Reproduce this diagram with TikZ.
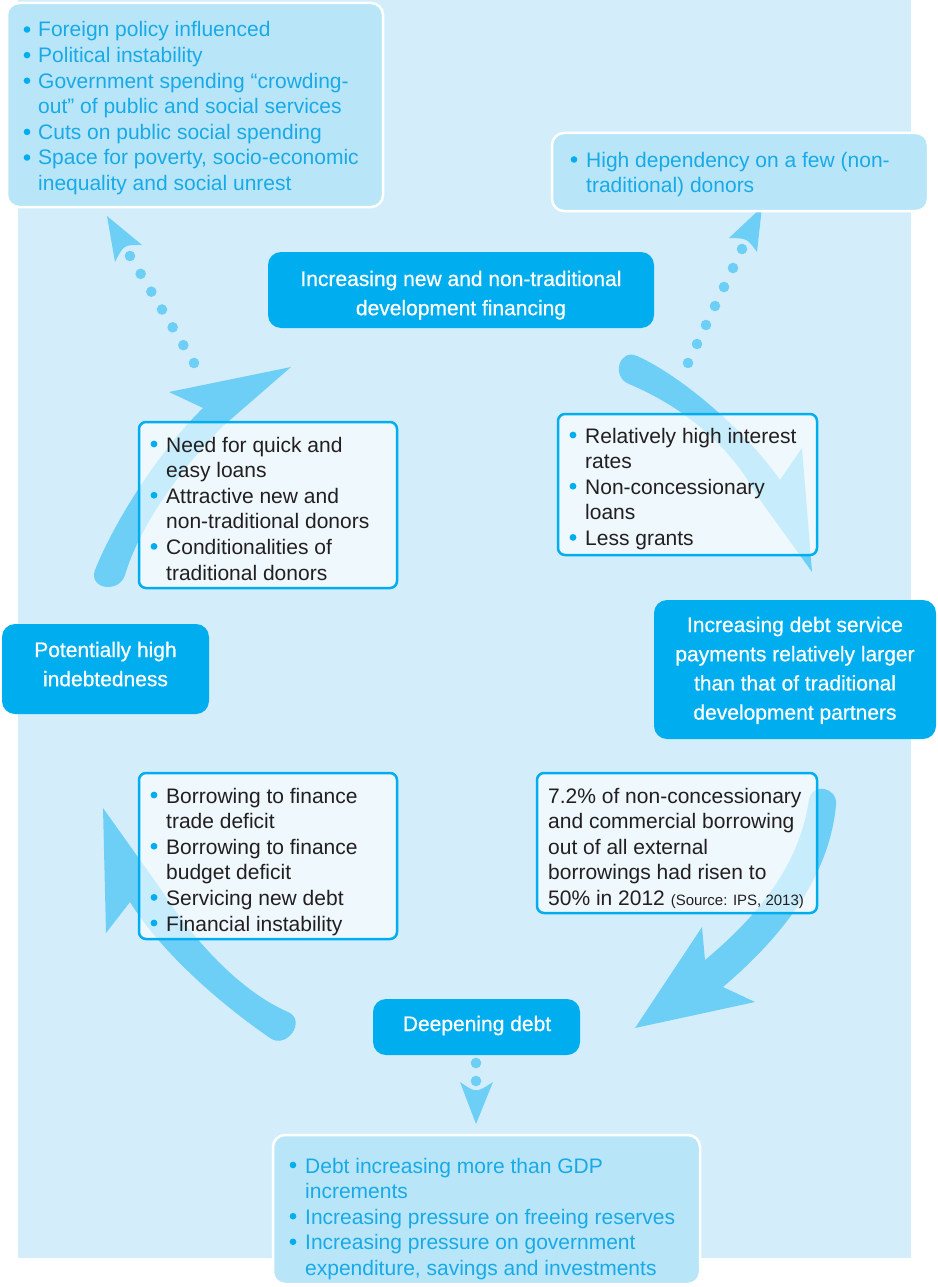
\documentclass[tikz,border=0pt]{standalone}
\usepackage{fontspec}
\setmainfont{Liberation Sans}
\newfontfamily\medfont{Liberation Sans}[FakeBold=0.6]
\usetikzlibrary{calc}
\definecolor{bgc}{HTML}{D3EEFA}
\definecolor{palec}{HTML}{B9E5F9}
\definecolor{darkc}{HTML}{00AEEF}
\definecolor{arrc}{HTML}{6DCFF6}
\definecolor{cyantxt}{HTML}{18AAE6}
\definecolor{bulc}{HTML}{00AEEF}
\definecolor{ink}{HTML}{231F20}
\newcommand{\lst}[1]{\parbox[t]{420pt}{\raggedright #1}}
\newcommand{\ctr}[1]{\parbox[t]{420pt}{\centering #1}}
\tikzset{
  arr/.style={fill=arrc},
  bulletdot/.style={fill=bulc},
  palebox/.style={draw=white, line width=2.5pt, fill=palec, rounded corners=12pt, inner sep=0pt},
  darkbox/.style={fill=darkc, rounded corners=13pt, inner sep=0pt},
  innerbox/.style={draw=darkc, line width=2.5pt, fill=white, fill opacity=0.62, draw opacity=1, rounded corners=7pt, inner sep=0pt},
  txt/.style={inner sep=0pt, font=\fontsize{21}{25.6}\selectfont},
  paletxt/.style={txt, text=cyantxt, anchor=base west},
  inktxt/.style={txt, text=ink, anchor=base west},
  darktxt/.style={inner sep=0pt, text=white, anchor=base, font=\medfont\fontsize{21}{29.2}\selectfont},
}
\begin{document}
\begin{tikzpicture}[x=1pt,y=-1pt]
\useasboundingbox (0,0) rectangle (937,1287);
\fill[white] (0,0) rectangle (937,1287);
\fill[bgc] (18,0) rectangle (911,1258);

% big curved arrows
\fill[arr] (95,570) .. controls (115,520) and (160,450) .. (203,408) -- (169,392) -- (291,367) -- (222,427)
  .. controls (180,470) and (140,525) .. (125,575) .. controls (119,594) and (88,589) .. (95,570) -- cycle;
\fill[arr] (637,356) .. controls (680,375) and (745,430) .. (780,480) -- (802,448) -- (812,572) -- (758,497)
  .. controls (735,455) and (695,412) .. (629,384) .. controls (611,377) and (619,348) .. (637,356) -- cycle;
\fill[arr] (836,805) .. controls (830,870) and (790,930) .. (723,987) -- (755,1002) -- (635,1028) -- (702,927) -- (705,960)
  .. controls (765,910) and (800,860) .. (809,800) .. controls (812,782) and (838,787) .. (836,805) -- cycle;
\fill[arr] (270,1038) .. controls (215,1000) and (160,950) .. (130,902) -- (106,933) -- (103,808) -- (160,888)
  .. controls (192,938) and (238,990) .. (288,1012) .. controls (307,1020) and (287,1050) .. (270,1038) -- cycle;

% dotted arrows
\coordinate (dTLa) at (194,363); \coordinate (dTLb) at (130,256);
\foreach \i in {0,...,6} \fill[arr] ($(dTLa)!{\i/6}!(dTLb)$) circle[radius=5.3pt];
\fill[arr] (107,216) -- (142,245) .. controls (123.8,244.8) .. (115,262) -- cycle;
\coordinate (dTRa) at (688,363); \coordinate (dTRb) at (742,249);
\foreach \i in {0,...,6} \fill[arr] ($(dTRa)!{\i/6}!(dTRb)$) circle[radius=5.3pt];
\fill[arr] (762,207) -- (757,252) .. controls (747,238.3) .. (729,238) -- cycle;
\coordinate (dBa) at (476,1063); \coordinate (dBb) at (476,1081);
\fill[arr] (dBa) circle[radius=5.3pt];
\fill[arr] (dBb) circle[radius=5.3pt];
\fill[arr] (476,1124) -- (493,1082) .. controls (476,1093) .. (460,1082) -- cycle;

% boxes
\node[palebox, minimum width=376pt, minimum height=204pt] (b1) at (195,105) {};
\node[palebox, minimum width=376pt, minimum height=78pt] (b2) at (740,172) {};
\node[darkbox, minimum width=386pt, minimum height=76pt] (b3) at (461,290) {};
\node[innerbox, minimum width=258pt, minimum height=166pt] (b4) at (268,505) {};
\node[darkbox, minimum width=207pt, minimum height=90pt] (b5) at (105.5,669) {};
\node[innerbox, minimum width=258pt, minimum height=166pt] (b6) at (268,856) {};
\node[innerbox, minimum width=259pt, minimum height=141pt] (b7) at (687.5,484.5) {};
\node[darkbox, minimum width=282pt, minimum height=139pt] (b8) at (795,669.5) {};
\node[innerbox, minimum width=280pt, minimum height=140pt] (b9) at (677,843) {};
\node[darkbox, minimum width=207pt, minimum height=56pt] (b10) at (476.5,1027) {};
\node[palebox, minimum width=427pt, minimum height=149pt] (b11) at (486.5,1209.5) {};

% bullets
\foreach \y in {29.5,55.1,80.7,131.9,157.5} \fill[bulletdot] (27,\y) circle[radius=3.3pt];
\fill[bulletdot] (574,159.5) circle[radius=3.3pt];
\foreach \y in {444,495.2,546.4} \fill[bulletdot] (154,\y) circle[radius=3.4pt];
\foreach \y in {795,846.2,897.4,923} \fill[bulletdot] (154,\y) circle[radius=3.4pt];
\foreach \y in {435,486.2,537.4} \fill[bulletdot] (573,\y) circle[radius=3.4pt];
\foreach \y in {1165,1216.2,1241.8} \fill[bulletdot] (293,\y) circle[radius=3.3pt];

% texts
\node[paletxt] (t1) at (38,37) {\lst{Foreign policy influenced\\
Political instability\\
Government spending “crowding-\\
out” of public and social services\\
Cuts on public social spending\\
Space for poverty, socio-economic\\
inequality and social unrest}};
\node[paletxt] (t2) at (586,167) {\lst{High dependency on a few (non-\\
traditional) donors}};
\node[darktxt] (t3) at (461,286) {\ctr{Increasing new and non-traditional\\ development financing}};
\node[inktxt] (t4) at (166,452) {\lst{Need for quick and\\
easy loans\\
Attractive new and\\
non-traditional donors\\
Conditionalities of\\
traditional donors}};
\node[darktxt] (t5) at (105.5,657) {\ctr{Potentially high\\ indebtedness}};
\node[inktxt] (t6) at (166,803) {\lst{Borrowing to finance\\
trade deficit\\
Borrowing to finance\\
budget deficit\\
Servicing new debt\\
Financial instability}};
\node[inktxt] (t7) at (585,443) {\lst{Relatively high interest\\
rates\\
Non-concessionary\\
loans\\
Less grants}};
\node[darktxt] (t8) at (795,632) {\ctr{Increasing debt service\\ payments relatively larger\\ than that of traditional\\ development partners}};
\node[inktxt] (t9) at (548,803) {\lst{7.2\% of non-concessionary\\
and commercial borrowing\\
out of all external\\
borrowings had risen to\\
50\% in 2012 {\fontsize{15}{15}\selectfont(Source: IPS, 2013)}}};
\node[darktxt] (t10) at (477,1031) {\ctr{Deepening debt}};
\node[paletxt] (t11) at (305,1173) {\lst{Debt increasing more than GDP\\
increments\\
Increasing pressure on freeing reserves\\
Increasing pressure on government\\
expenditure, savings and investments}};
\end{tikzpicture}
\end{document}
